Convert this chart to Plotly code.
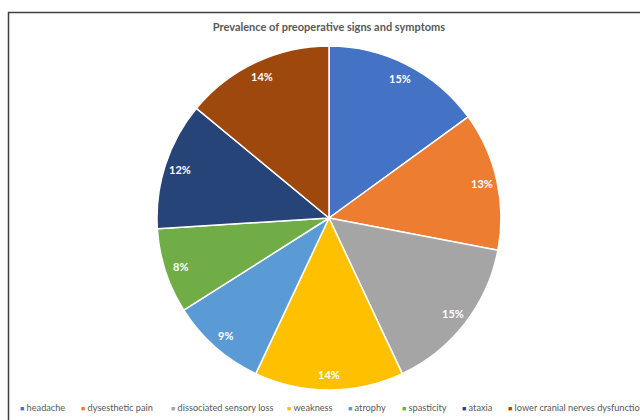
import math
import plotly.graph_objects as go

# Preoperative signs and symptoms (share of patients, %)
symptoms = [
    "headache",
    "dysesthetic pain",
    "dissociated sensory loss",
    "weakness",
    "atrophy",
    "spasticity",
    "ataxia",
    "lower cranial nerves dysfunction",
]
prevalence = [15, 13, 15, 14, 9, 8, 12, 14]
colors = ["#4472C4", "#ED7D31", "#A5A5A5", "#FFC000",
          "#5B9BD5", "#70AD47", "#264478", "#9E480E"]

W, H = 640, 420
FONT = "Lato, 'Open Sans', sans-serif"

# Pie placement (pixels)
CX, CY, R = 329, 218, 172
LABEL_R = 0.91  # data labels sit near the rim

fig = go.Figure(go.Pie(
    labels=symptoms,
    values=prevalence,
    sort=False,
    direction="clockwise",
    rotation=0,
    marker=dict(colors=colors, line=dict(color="white", width=1.5)),
    textinfo="none",
    hoverinfo="label+percent",
    domain=dict(x=[(CX - R) / W, (CX + R) / W],
                y=[(H - CY - R) / H, (H - CY + R) / H]),
    showlegend=False,
))

# Percentage labels at each slice's mid-angle, close to the outer edge
total = sum(prevalence)
cum = 0
for v in prevalence:
    mid = (cum + v / 2) / total * 2 * math.pi
    cum += v
    px = CX + LABEL_R * R * math.sin(mid)
    py = CY - LABEL_R * R * math.cos(mid)
    fig.add_annotation(
        x=px / W, y=1 - py / H, xref="paper", yref="paper",
        xanchor="center", yanchor="middle", showarrow=False,
        text=f"{round(v / total * 100)}%",
        font=dict(family=FONT, size=11, color="white", weight="bold"),
    )

# Legend row along the bottom, drawn as coloured squares plus labels
legend_marker_x = [18, 79, 169, 285, 346, 400, 460, 506]
legend_y = 1 - 407 / H
for name, col, mx in zip(symptoms, colors, legend_marker_x):
    fig.add_annotation(
        x=mx / W, y=legend_y, xref="paper", yref="paper",
        xanchor="left", yanchor="middle", showarrow=False,
        text=f"<span style='color:{col};font-size:7px'>■</span> {name}",
        font=dict(family=FONT, size=9.2, color="#595959"),
    )

# Chart frame
fig.add_shape(type="rect", xref="paper", yref="paper",
              x0=8.5 / W, x1=1.1, y0=-0.1, y1=1 - 12.5 / H,
              line=dict(color="#404040", width=1.5))

fig.update_layout(
    width=W, height=H,
    margin=dict(l=0, r=0, t=0, b=0),
    paper_bgcolor="white",
    plot_bgcolor="white",
    title=dict(text="Prevalence of preoperative signs and symptoms",
               x=329 / W, xanchor="center", y=1 - 27 / H, yanchor="middle",
               font=dict(family=FONT, size=11, color="#595959", weight="bold")),
)

fig.write_html("out.html")
